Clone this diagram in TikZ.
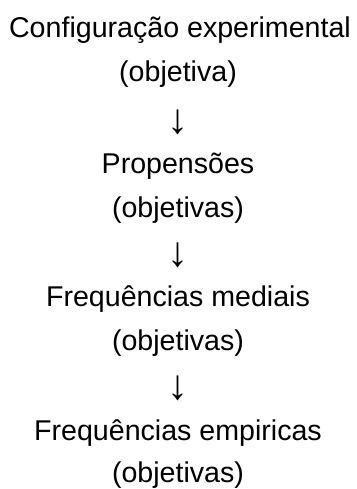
\documentclass[tikz,border=0pt]{standalone}
\usepackage{fontspec}
\setmainfont{Liberation Sans}
\begin{document}
\begin{tikzpicture}[x=1pt,y=-1pt,
  txt/.style={anchor=base,inner sep=0pt,font=\fontsize{28.6}{34}\selectfont},
  arr/.style={anchor=center,inner sep=0pt,font=\fontsize{42}{48}\selectfont}]
\useasboundingbox (0,0) rectangle (356,489);
\def\cx{178}
\node[txt] (l1) at (180,38) {Configuração experimental};
\node[txt] (l2) at (\cx,82) {(objetiva)};
\node[arr] (a1) at (\cx,122) {↓};
\node[txt] (l4) at (\cx,173) {Propensões};
\node[txt] (l5) at (\cx,217) {(objetivas)};
\node[arr] (a2) at (\cx,255) {↓};
\node[txt] (l7) at (\cx,306) {Frequências mediais};
\node[txt] (l8) at (\cx,350) {(objetivas)};
\node[arr] (a3) at (\cx,388) {↓};
\node[txt] (l10) at (\cx,440) {Frequências empiricas};
\node[txt] (l11) at (\cx,482) {(objetivas)};
\end{tikzpicture}
\end{document}
